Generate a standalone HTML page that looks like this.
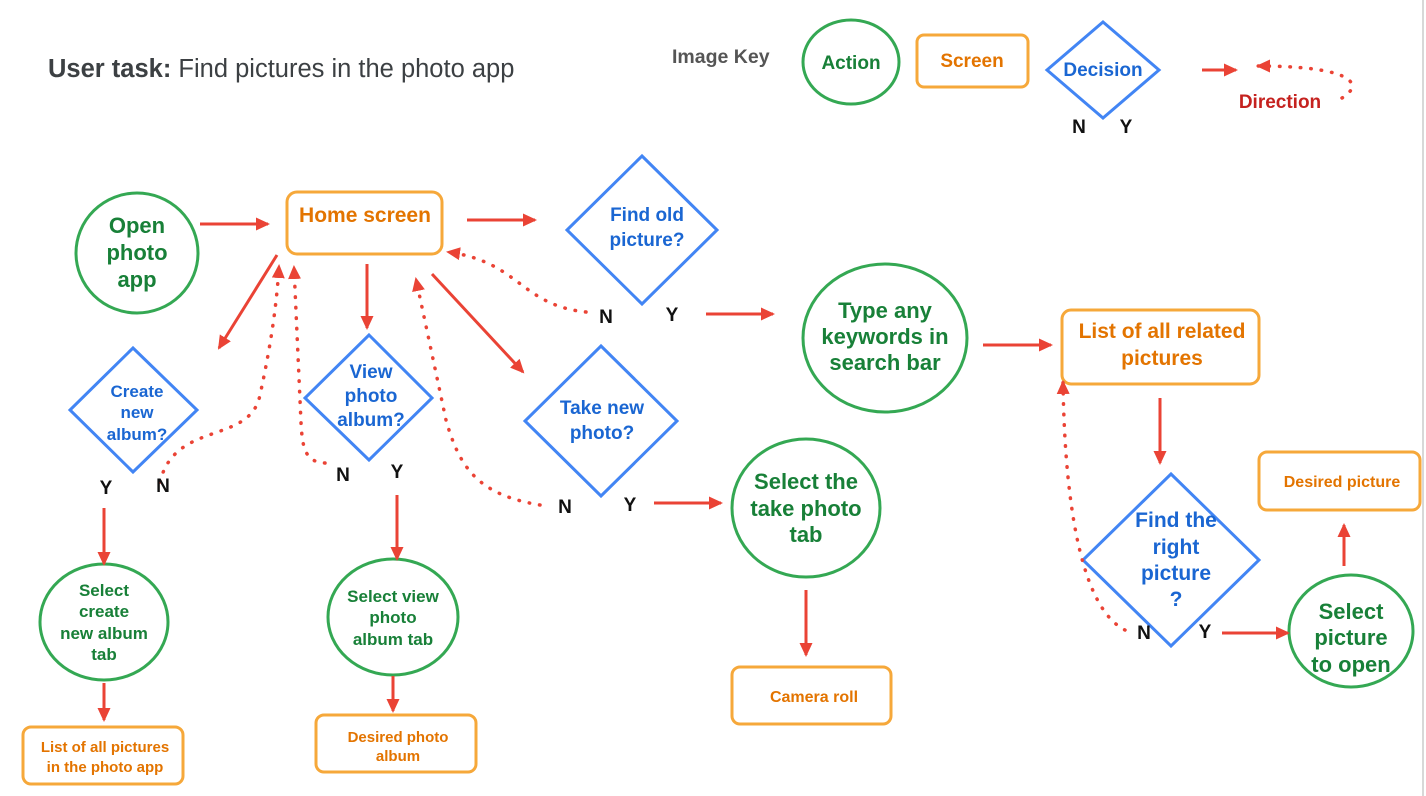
<!DOCTYPE html>
<html><head><meta charset="utf-8"><style>
html,body{margin:0;padding:0;background:#fff;width:1426px;height:796px;overflow:hidden}
svg text{font-family:"Liberation Sans",sans-serif;font-weight:bold}
.g{fill:#188038}.o{fill:#e37400}.b{fill:#1a66d2}.k{fill:#111}
</style></head><body>
<svg width="1426" height="796" viewBox="0 0 1426 796" xmlns="http://www.w3.org/2000/svg">
<defs>
<marker id="a" markerWidth="14" markerHeight="13" refX="12" refY="6.5" orient="auto" markerUnits="userSpaceOnUse"><path d="M0,0 L14,6.5 L0,13 z" fill="#ea4335"/></marker>
</defs>
<line x1="1423" y1="0" x2="1423" y2="796" stroke="#ccc" stroke-width="1.5"/>
<text x="48" y="77" font-size="25.5" fill="#3c4043">User task:<tspan font-weight="normal"> Find pictures in the photo app</tspan></text>
<text x="672" y="63" font-size="19.5" fill="#555">Image Key</text>
<g fill="none" stroke-width="3">
<ellipse cx="851" cy="62" rx="48" ry="42" stroke="#34a853"/>
<rect x="917" y="35" width="111" height="52" rx="7" stroke="#f6a83a"/>
<path d="M1103,22 L1159,70 L1103,118 L1047,70 Z" stroke="#4285f4"/>
<ellipse cx="137" cy="253" rx="61" ry="60" stroke="#34a853"/>
<rect x="287" y="192" width="155" height="62" rx="10" stroke="#f6a83a"/>
<path d="M642,156 L717,230 L642,304 L567,230 Z" stroke="#4285f4"/>
<ellipse cx="885" cy="338" rx="82" ry="74" stroke="#34a853"/>
<rect x="1062" y="310" width="197" height="74" rx="9" stroke="#f6a83a"/>
<path d="M1171,474 L1259,560 L1171,646 L1083,560 Z" stroke="#4285f4"/>
<ellipse cx="1351" cy="631" rx="62" ry="56" stroke="#34a853"/>
<rect x="1259" y="452" width="161" height="58" rx="8" stroke="#f6a83a"/>
<path d="M133,348 L197,410 L133,472 L70,410 Z" stroke="#4285f4"/>
<ellipse cx="104" cy="622" rx="64" ry="58" stroke="#34a853"/>
<rect x="23" y="727" width="160" height="57" rx="8" stroke="#f6a83a"/>
<path d="M369,335 L432,398 L369,460 L305,398 Z" stroke="#4285f4"/>
<ellipse cx="393" cy="617" rx="65" ry="58" stroke="#34a853"/>
<rect x="316" y="715" width="160" height="57" rx="8" stroke="#f6a83a"/>
<path d="M601,346 L677,421 L601,496 L525,421 Z" stroke="#4285f4"/>
<ellipse cx="806" cy="508" rx="74" ry="69" stroke="#34a853"/>
<rect x="732" y="667" width="159" height="57" rx="8" stroke="#f6a83a"/>
</g>
<g stroke="#ea4335" stroke-width="3" fill="none" marker-end="url(#a)">
<line x1="1202" y1="70" x2="1236" y2="70"/>
<line x1="200" y1="224" x2="268" y2="224"/>
<line x1="467" y1="220" x2="535" y2="220"/>
<line x1="706" y1="314" x2="773" y2="314"/>
<line x1="983" y1="345" x2="1051" y2="345"/>
<line x1="1160" y1="398" x2="1160" y2="463"/>
<line x1="1222" y1="633" x2="1288" y2="633"/>
<line x1="1344" y1="566" x2="1344" y2="525"/>
<line x1="277" y1="255" x2="219" y2="348"/>
<line x1="104" y1="508" x2="104" y2="564"/>
<line x1="104" y1="683" x2="104" y2="720"/>
<line x1="367" y1="264" x2="367" y2="328"/>
<line x1="397" y1="495" x2="397" y2="559"/>
<line x1="393" y1="676" x2="393" y2="711"/>
<line x1="432" y1="274" x2="523" y2="372"/>
<line x1="654" y1="503" x2="721" y2="503"/>
<line x1="806" y1="590" x2="806" y2="655"/>
</g>
<g stroke="#ea4335" stroke-width="3.5" fill="none" stroke-dasharray="0.5 10" stroke-linecap="round" marker-end="url(#a)">
<path d="M1342,98 C1368,82 1345,66 1258,66"/>
<path d="M586,312 C520,305 520,262 448,252"/>
<path d="M1125,630 C1085,610 1065,520 1063,382"/>
<path d="M160,482 C175,420 250,445 260,395 C272,340 277,300 279,266"/>
<path d="M325,463 C300,462 302,440 300,400 L294,267"/>
<path d="M540,505 C480,495 460,470 446,420 L416,279"/>
</g>
<g font-size="19" text-anchor="middle">
<text x="851" y="69" class="g">Action</text>
<text x="972" y="67" class="o">Screen</text>
<text x="1103" y="76" class="b">Decision</text>
<text x="1079" y="133" class="k">N</text><text x="1126" y="133" class="k">Y</text>
<text x="1280" y="108" fill="#c5221f">Direction</text>
</g>
<g font-size="22" text-anchor="middle" class="g">
<text x="137" y="233" class="g">Open</text><text x="137" y="260" class="g">photo</text><text x="137" y="287" class="g">app</text>
<text x="885" y="318" class="g">Type any</text><text x="885" y="344" class="g">keywords in</text><text x="885" y="370" class="g">search bar</text>
<text x="1351" y="619" class="g">Select</text><text x="1351" y="645" class="g">picture</text><text x="1351" y="672" class="g">to open</text>
<text x="806" y="489" class="g">Select the</text><text x="806" y="516" class="g">take photo</text><text x="806" y="542" class="g">tab</text>
</g>
<g font-size="17" text-anchor="middle">
<text x="104" y="596" class="g">Select</text><text x="104" y="617" class="g">create</text><text x="104" y="639" class="g">new album</text><text x="104" y="660" class="g">tab</text>
<text x="393" y="602" class="g">Select view</text><text x="393" y="623" class="g">photo</text><text x="393" y="645" class="g">album tab</text>
<text x="137" y="397" class="b">Create</text><text x="137" y="418" class="b">new</text><text x="137" y="440" class="b">album?</text>
</g>
<g font-size="21" text-anchor="middle">
<text x="365" y="222" class="o">Home screen</text>
<text x="1162" y="338" class="o">List of all related</text><text x="1162" y="365" class="o">pictures</text>
<text x="647" y="221" class="b" font-size="19">Find old</text><text x="647" y="246" class="b" font-size="19">picture?</text>
<text x="1176" y="527" class="b">Find the</text><text x="1176" y="554" class="b">right</text><text x="1176" y="580" class="b">picture</text><text x="1176" y="606" class="b">?</text>
<text x="371" y="378" class="b" font-size="19">View</text><text x="371" y="402" class="b" font-size="19">photo</text><text x="371" y="426" class="b" font-size="19">album?</text>
<text x="602" y="414" class="b" font-size="19">Take new</text><text x="602" y="439" class="b" font-size="19">photo?</text>
</g>
<g font-size="16" text-anchor="middle">
<text x="1342" y="487" class="o">Desired picture</text>
<text x="105" y="752" class="o" font-size="15">List of all pictures</text><text x="105" y="772" class="o" font-size="15">in the photo app</text>
<text x="398" y="742" class="o" font-size="15">Desired photo</text><text x="398" y="761" class="o" font-size="15">album</text>
<text x="814" y="702" class="o">Camera roll</text>
</g>
<g font-size="19" text-anchor="middle" class="k">
<text x="606" y="323">N</text><text x="672" y="321">Y</text>
<text x="1144" y="639">N</text><text x="1205" y="638">Y</text>
<text x="106" y="494">Y</text><text x="163" y="492">N</text>
<text x="343" y="481">N</text><text x="397" y="478">Y</text>
<text x="565" y="513">N</text><text x="630" y="511">Y</text>
</g>
</svg>
</body></html>
